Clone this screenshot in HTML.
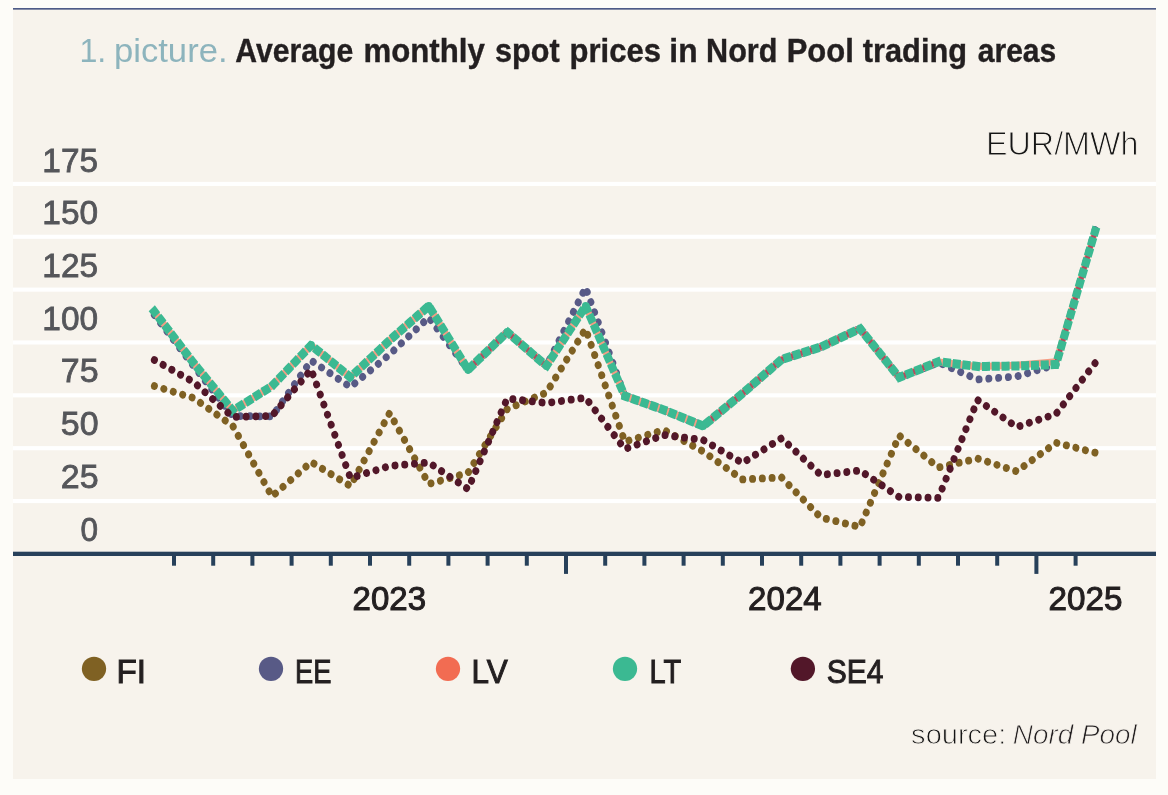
<!DOCTYPE html>
<html><head><meta charset="utf-8"><title>Average monthly spot prices in Nord Pool trading areas</title>
<style>
html,body{margin:0;padding:0;background:#fdfcf8;}
body{width:1168px;height:795px;overflow:hidden;font-family:"Liberation Sans",sans-serif;}
svg{will-change:transform;display:block;position:absolute;left:0;top:0;}
text{font-family:"Liberation Sans",sans-serif;}
</style></head><body>
<svg width="1168" height="795" viewBox="0 0 1168 795">
<rect x="0" y="0" width="1168" height="795" fill="#fdfcf8"/>
<rect x="13" y="9" width="1143" height="770" fill="#f7f3ec"/>
<rect x="13" y="8.1" width="1143" height="1.5" fill="#3a4a7a"/>
<rect x="13" y="181.85" width="1143" height="4.1" fill="#ffffff"/>
<rect x="13" y="234.71" width="1143" height="4.1" fill="#ffffff"/>
<rect x="13" y="287.57" width="1143" height="4.1" fill="#ffffff"/>
<rect x="13" y="340.43" width="1143" height="4.1" fill="#ffffff"/>
<rect x="13" y="393.29" width="1143" height="4.1" fill="#ffffff"/>
<rect x="13" y="446.15" width="1143" height="4.1" fill="#ffffff"/>
<rect x="13" y="499.01" width="1143" height="4.1" fill="#ffffff"/>
<text transform="translate(42.29,171.5) scale(1.0038,1.0)" font-size="33.3" font-weight="normal" font-style="normal" fill="#55565a" stroke="#55565a" stroke-width="0.8">175</text>
<text transform="translate(42.29,224.2) scale(1.0038,1.0)" font-size="33.3" font-weight="normal" font-style="normal" fill="#55565a" stroke="#55565a" stroke-width="0.8">150</text>
<text transform="translate(42.29,277.0) scale(1.0038,1.0)" font-size="33.3" font-weight="normal" font-style="normal" fill="#55565a" stroke="#55565a" stroke-width="0.8">125</text>
<text transform="translate(42.29,329.7) scale(1.0038,1.0)" font-size="33.3" font-weight="normal" font-style="normal" fill="#55565a" stroke="#55565a" stroke-width="0.8">100</text>
<text transform="translate(60.78,382.4) scale(1.0200,1.0)" font-size="33.3" font-weight="normal" font-style="normal" fill="#55565a" stroke="#55565a" stroke-width="0.8">75</text>
<text transform="translate(60.78,435.1) scale(1.0200,1.0)" font-size="33.3" font-weight="normal" font-style="normal" fill="#55565a" stroke="#55565a" stroke-width="0.8">50</text>
<text transform="translate(60.78,487.9) scale(1.0200,1.0)" font-size="33.3" font-weight="normal" font-style="normal" fill="#55565a" stroke="#55565a" stroke-width="0.8">25</text>
<text transform="translate(80.45,540.6) scale(0.9471,1.0)" font-size="33.3" font-weight="normal" font-style="normal" fill="#55565a" stroke="#55565a" stroke-width="0.8">0</text>
<g transform="scale(1,1.11)" fill="none" stroke-linejoin="round">
<path d="M154.400,347.748 L193.600,358.559 L232.800,383.784 L272.000,447.297 L311.200,416.216 L350.400,437.838 L389.600,372.072 L428.800,436.036 L468.000,425.946 L507.200,368.468 L546.400,353.694 L585.600,296.306 L624.800,397.928 L664.000,387.387 L703.200,406.757 L742.400,431.982 L781.600,430.180 L820.800,466.216 L860.000,474.775 L899.200,392.342 L938.400,421.171 L977.600,413.153 L1016.800,424.595 L1056.000,398.829 L1095.200,407.838" stroke="#7f6123" stroke-width="7" stroke-linecap="round" stroke-dasharray="0.01 9.765"/>
<path d="M154.400,283.784 L193.600,329.730 L232.800,374.775 L272.000,375.225 L311.200,324.775 L350.400,348.649 L389.600,319.279 L428.800,285.946 L468.000,333.153 L507.200,299.099 L546.400,329.730 L585.600,259.009 L624.800,356.757 L664.000,369.369 L703.200,383.784 L742.400,354.595 L781.600,323.874 L820.800,312.613 L860.000,296.036 L899.200,340.090 L938.400,326.577 L977.600,341.892 L1016.800,339.189 L1056.000,328.378 L1095.200,206.757" stroke="#585a86" stroke-width="7" stroke-linecap="round" stroke-dasharray="0.01 9.796"/>
<path d="M154.400,280.811 L193.600,327.027 L232.800,370.090 L272.000,347.748 L311.200,310.991 L350.400,339.910 L389.600,306.577 L428.800,275.676 L468.000,333.153 L507.200,299.099 L546.400,329.730 L585.600,275.676 L624.800,356.757 L664.000,369.369 L703.200,383.784 L742.400,354.595 L781.600,323.874 L820.800,312.613 L860.000,296.036 L899.200,340.090 L938.400,325.946 L977.600,330.180 L1016.800,329.009 L1056.000,325.766 L1095.200,208.108" stroke="#f59d84" stroke-width="6.2" stroke-linecap="butt" stroke-linejoin="bevel"/>
<path d="M468.000,333.153 L507.200,299.099 L546.400,329.730" stroke="#b8485c" stroke-width="4.8" stroke-linecap="butt" stroke-linejoin="bevel"/>
<path d="M703.200,383.784 L742.400,354.595 L781.600,323.874 L820.800,312.613 L860.000,296.036 L899.200,340.090 L938.400,325.946" stroke="#b8485c" stroke-width="4.8" stroke-linecap="butt" stroke-linejoin="bevel"/>
<path d="M1056.000,328.378 L1095.200,208.108" stroke="#b8485c" stroke-width="4.8" stroke-linecap="butt" stroke-linejoin="bevel"/>
<path d="M154.400,280.811 L193.600,327.027 L232.800,370.090 L272.000,347.748 L311.200,310.991 L350.400,339.910 L389.600,306.577 L428.800,275.676 L468.000,333.153 L507.200,299.099 L546.400,329.730 L585.600,275.676 L624.800,356.757 L664.000,369.369 L703.200,383.784 L742.400,354.595 L781.600,323.874 L820.800,312.613 L860.000,296.036 L899.200,340.090 L938.400,325.946 L977.600,330.180 L1016.800,329.730 L1056.000,328.378 L1095.200,208.108" stroke="#3bb992" stroke-width="8.1" stroke-linecap="square" stroke-dasharray="0.01 9.806"/>
<circle cx="232.80" cy="370.09" r="3.7" fill="#3bb992" stroke="none"/>
<circle cx="311.20" cy="310.99" r="3.7" fill="#3bb992" stroke="none"/>
<circle cx="350.40" cy="339.91" r="3.7" fill="#3bb992" stroke="none"/>
<circle cx="428.80" cy="275.68" r="3.7" fill="#3bb992" stroke="none"/>
<circle cx="468.00" cy="333.15" r="3.7" fill="#3bb992" stroke="none"/>
<circle cx="507.20" cy="299.10" r="3.7" fill="#3bb992" stroke="none"/>
<circle cx="546.40" cy="329.73" r="3.7" fill="#3bb992" stroke="none"/>
<circle cx="585.60" cy="275.68" r="3.7" fill="#3bb992" stroke="none"/>
<circle cx="624.80" cy="356.76" r="3.7" fill="#3bb992" stroke="none"/>
<circle cx="703.20" cy="383.78" r="3.7" fill="#3bb992" stroke="none"/>
<circle cx="860.00" cy="296.04" r="3.7" fill="#3bb992" stroke="none"/>
<circle cx="899.20" cy="340.09" r="3.7" fill="#3bb992" stroke="none"/>
<circle cx="1056.00" cy="328.38" r="3.7" fill="#3bb992" stroke="none"/>
<path d="M154.400,324.324 L193.600,344.144 L232.800,375.676 L272.000,374.775 L311.200,332.883 L350.400,430.631 L389.600,419.820 L428.800,416.667 L468.000,440.541 L507.200,359.009 L546.400,363.063 L585.600,358.378 L624.800,404.505 L664.000,391.892 L703.200,396.396 L742.400,417.117 L781.600,394.775 L820.800,427.928 L860.000,423.874 L899.200,447.748 L938.400,448.649 L977.600,360.360 L1016.800,384.685 L1056.000,372.973 L1095.200,326.937" stroke="#521729" stroke-width="7" stroke-linecap="round" stroke-dasharray="0.01 9.767"/>
</g>
<rect x="13" y="551.7" width="1143" height="4.3" fill="#27405a"/>
<rect x="172.0" y="555.9" width="4" height="9.8" fill="#27405a"/>
<rect x="211.2" y="555.9" width="4" height="9.8" fill="#27405a"/>
<rect x="250.4" y="555.9" width="4" height="9.8" fill="#27405a"/>
<rect x="289.6" y="555.9" width="4" height="9.8" fill="#27405a"/>
<rect x="328.8" y="555.9" width="4" height="9.8" fill="#27405a"/>
<rect x="368.0" y="555.9" width="4" height="9.8" fill="#27405a"/>
<rect x="407.2" y="555.9" width="4" height="9.8" fill="#27405a"/>
<rect x="446.4" y="555.9" width="4" height="9.8" fill="#27405a"/>
<rect x="485.6" y="555.9" width="4" height="9.8" fill="#27405a"/>
<rect x="524.8" y="555.9" width="4" height="9.8" fill="#27405a"/>
<rect x="564.0" y="555.9" width="4" height="18" fill="#27405a"/>
<rect x="603.2" y="555.9" width="4" height="9.8" fill="#27405a"/>
<rect x="642.4" y="555.9" width="4" height="9.8" fill="#27405a"/>
<rect x="681.6" y="555.9" width="4" height="9.8" fill="#27405a"/>
<rect x="720.8" y="555.9" width="4" height="9.8" fill="#27405a"/>
<rect x="760.0" y="555.9" width="4" height="9.8" fill="#27405a"/>
<rect x="799.2" y="555.9" width="4" height="9.8" fill="#27405a"/>
<rect x="838.4" y="555.9" width="4" height="9.8" fill="#27405a"/>
<rect x="877.6" y="555.9" width="4" height="9.8" fill="#27405a"/>
<rect x="916.8" y="555.9" width="4" height="9.8" fill="#27405a"/>
<rect x="956.0" y="555.9" width="4" height="9.8" fill="#27405a"/>
<rect x="995.2" y="555.9" width="4" height="9.8" fill="#27405a"/>
<rect x="1034.4" y="555.9" width="4" height="18" fill="#27405a"/>
<rect x="1073.6" y="555.9" width="4" height="9.8" fill="#27405a"/>
<text transform="translate(352.60,609.9) scale(1.0000,1.0)" font-size="33" font-weight="normal" font-style="normal" fill="#231f20" stroke="#231f20" stroke-width="1.0">2023</text>
<text transform="translate(748.10,609.9) scale(1.0028,1.0)" font-size="33" font-weight="normal" font-style="normal" fill="#231f20" stroke="#231f20" stroke-width="1.0">2024</text>
<text transform="translate(1048.59,609.9) scale(1.0069,1.0)" font-size="33" font-weight="normal" font-style="normal" fill="#231f20" stroke="#231f20" stroke-width="1.0">2025</text>
<circle cx="94" cy="668.8" r="12.15" fill="#7f6123"/>
<text transform="translate(116.38,683.4) scale(1.0080,1.0)" font-size="33" font-weight="normal" font-style="normal" fill="#231f20" stroke="#231f20" stroke-width="1.0">FI</text>
<circle cx="271" cy="668.8" r="12.15" fill="#585a86"/>
<text transform="translate(294.95,683.4) scale(0.8268,1.0)" font-size="33" font-weight="normal" font-style="normal" fill="#231f20" stroke="#231f20" stroke-width="1.0">EE</text>
<circle cx="448" cy="668.8" r="12.15" fill="#f26c52"/>
<text transform="translate(471.59,683.4) scale(0.9528,1.0)" font-size="33" font-weight="normal" font-style="normal" fill="#231f20" stroke="#231f20" stroke-width="1.0">LV</text>
<circle cx="625" cy="668.8" r="12.15" fill="#3bb992"/>
<text transform="translate(649.44,683.4) scale(0.8794,1.0)" font-size="33" font-weight="normal" font-style="normal" fill="#231f20" stroke="#231f20" stroke-width="1.0">LT</text>
<circle cx="802.9" cy="668.8" r="12.15" fill="#521729"/>
<text transform="translate(826.69,683.4) scale(0.9098,1.0)" font-size="33" font-weight="normal" font-style="normal" fill="#231f20" stroke="#231f20" stroke-width="1.0">SE4</text>
<text transform="translate(79.39,61.8) scale(0.9565,1.0)" font-size="33.7" font-weight="normal" font-style="normal" fill="#8db4bd">1.</text>
<text transform="translate(113.94,61.8) scale(1.0286,1.0)" font-size="33.7" font-weight="normal" font-style="normal" fill="#8db4bd">picture.</text>
<text transform="translate(235.20,61.8) scale(0.8962,1.0)" font-size="33.7" font-weight="bold" font-style="normal" fill="#231f20" stroke="#231f20" stroke-width="0.4">Average</text>
<text transform="translate(363.45,61.8) scale(0.9256,1.0)" font-size="33.7" font-weight="bold" font-style="normal" fill="#231f20" stroke="#231f20" stroke-width="0.4">monthly</text>
<text transform="translate(495.09,61.8) scale(0.9071,1.0)" font-size="33.7" font-weight="bold" font-style="normal" fill="#231f20" stroke="#231f20" stroke-width="0.4">spot</text>
<text transform="translate(569.56,61.8) scale(0.9208,1.0)" font-size="33.7" font-weight="bold" font-style="normal" fill="#231f20" stroke="#231f20" stroke-width="0.4">prices</text>
<text transform="translate(669.32,61.8) scale(0.9423,1.0)" font-size="33.7" font-weight="bold" font-style="normal" fill="#231f20" stroke="#231f20" stroke-width="0.4">in</text>
<text transform="translate(706.08,61.8) scale(0.9080,1.0)" font-size="33.7" font-weight="bold" font-style="normal" fill="#231f20" stroke="#231f20" stroke-width="0.4">Nord</text>
<text transform="translate(786.66,61.8) scale(0.9203,1.0)" font-size="33.7" font-weight="bold" font-style="normal" fill="#231f20" stroke="#231f20" stroke-width="0.4">Pool</text>
<text transform="translate(862.80,61.8) scale(0.9125,1.0)" font-size="33.7" font-weight="bold" font-style="normal" fill="#231f20" stroke="#231f20" stroke-width="0.4">trading</text>
<text transform="translate(977.81,61.8) scale(0.8907,1.0)" font-size="33.7" font-weight="bold" font-style="normal" fill="#231f20" stroke="#231f20" stroke-width="0.4">areas</text>
<text transform="translate(985.91,154.9) scale(0.9647,1.0)" font-size="33.5" font-weight="normal" font-style="normal" fill="#151515" stroke="#f7f3ec" stroke-width="1.0">EUR/MWh</text>
<text transform="translate(911.12,743.8) scale(1.0753,1.0)" font-size="27" font-weight="normal" font-style="normal" fill="#151515" stroke="#f7f3ec" stroke-width="0.85">source:</text>
<text transform="translate(1012.87,743.8) scale(1.0317,1.0)" font-size="27" font-weight="normal" font-style="italic" fill="#231f20" stroke="#f7f3ec" stroke-width="0.8">Nord Pool</text>
</svg>
</body></html>
